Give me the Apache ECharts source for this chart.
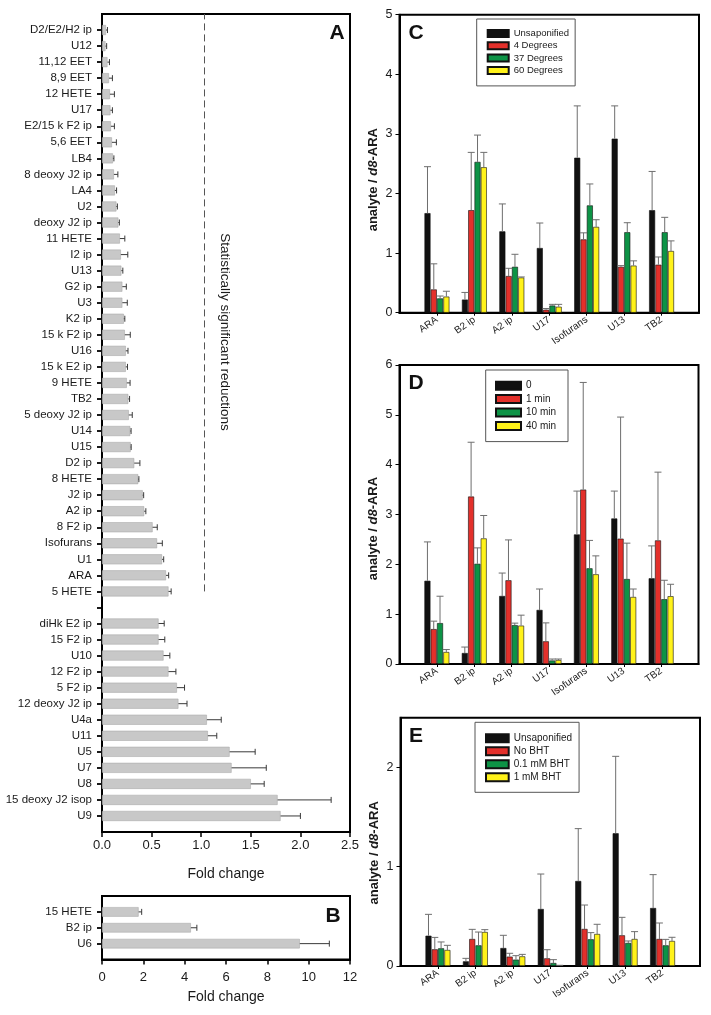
<!DOCTYPE html>
<html><head><meta charset="utf-8">
<script src="https://cdn.jsdelivr.net/npm/echarts@6/dist/echarts.min.js"></script>
<style>html,body{margin:0;padding:0;background:#fff}#c{width:711px;height:1015px}</style>
</head><body><div id="c"></div>
<script>
const FONT = '"Liberation Sans", Arial, Helvetica, sans-serif';
const TXT = '#1a1a1a';

// ---------- Panel A ----------
const catsA = ['D2/E2/H2 ip','U12','11,12 EET','8,9 EET','12 HETE','U17','E2/15 k F2 ip','5,6 EET','LB4','8 deoxy J2 ip','LA4','U2','deoxy J2 ip','11 HETE','I2 ip','U13','G2 ip','U3','K2 ip','15 k F2 ip','U16','15 k E2 ip','9 HETE','TB2','5 deoxy J2 ip','U14','U15','D2 ip','8 HETE','J2 ip','A2 ip','8 F2 ip','Isofurans','U1','ARA','5 HETE',' ','diHk E2 ip','15 F2 ip','U10','12 F2 ip','5 F2 ip','12 deoxy J2 ip','U4a','U11','U5','U7','U8','15 deoxy J2 isop','U9'];
const valsA = [0.04,0.035,0.055,0.07,0.08,0.085,0.09,0.10,0.11,0.12,0.13,0.145,0.165,0.18,0.19,0.195,0.205,0.205,0.22,0.23,0.24,0.24,0.25,0.265,0.27,0.285,0.289,0.325,0.365,0.41,0.425,0.51,0.555,0.605,0.645,0.67,null,0.57,0.57,0.62,0.67,0.755,0.77,1.057,1.067,1.286,1.306,1.50,1.77,1.80];
const errA = [0.015,0.012,0.02,0.035,0.045,0.02,0.035,0.045,0.01,0.04,0.017,0.01,0.01,0.05,0.07,0.015,0.04,0.05,0.01,0.055,0.022,0.017,0.033,0.013,0.035,0.008,0.005,0.057,0.007,0.01,0.017,0.047,0.053,0.017,0.027,0.027,null,0.057,0.063,0.064,0.075,0.077,0.087,0.145,0.09,0.258,0.35,0.135,0.54,0.20];
const thresholdA = 1.03;
const ticksA = {min:0, max:2.5, interval:0.5};

// ---------- Panel B ----------
const catsB = ['15 HETE','B2 ip','U6'];
const valsB = [1.77, 4.30, 9.57];
const errB = [0.15, 0.29, 1.43];
const ticksB = {min:0, max:12, interval:2};

// ---------- Panels C, D, E ----------
const catsCDE = ['ARA','B2 ip','A2 ip','U17','Isofurans','U13','TB2'];

const namesC = ['Unsaponified','4 Degrees','37 Degrees','60 Degrees'];
const valsC_unsap = [1.67,0.22,1.365,1.085,2.60,2.92,1.72];
const errC_unsap  = [0.78,0.12,0.46,0.42,0.87,0.55,0.65];
const valsC_4  = [0.39,1.72,0.615,0.05,1.23,0.77,0.805];
const errC_4   = [0.43,0.97,0.13,0.02,0.11,0.02,0.13];
const valsC_37 = [0.24,2.53,0.77,0.12,1.80,1.35,1.35];
const errC_37  = [0.04,0.45,0.21,0.02,0.36,0.16,0.25];
const valsC_60 = [0.27,2.44,0.59,0.10,1.44,0.79,1.035];
const errC_60  = [0.09,0.25,0.01,0.04,0.12,0.08,0.17];

const namesD = ['0','1 min','10 min','40 min'];
const valsD_0  = [1.67,0.22,1.365,1.085,2.60,2.92,1.72];
const errD_0   = [0.78,0.12,0.46,0.42,0.87,0.55,0.65];
const valsD_1  = [0.70,3.36,1.68,0.455,3.50,2.515,2.48];
const errD_1   = [0.16,1.09,0.81,0.37,2.15,2.44,1.37];
const valsD_10 = [0.82,2.01,0.78,0.07,1.92,1.705,1.30];
const errD_10  = [0.54,0.32,0.04,0.03,0.56,0.72,0.38];
const valsD_40 = [0.24,2.52,0.77,0.08,1.80,1.345,1.36];
const errD_40  = [0.05,0.46,0.21,0.02,0.37,0.16,0.24];

const namesE = ['Unsaponified','No BHT','0.1 mM BHT','1 mM BHT'];
const valsE_unsap = [0.305,0.047,0.181,0.574,0.856,1.336,0.584];
const errE_unsap  = [0.215,0.03,0.128,0.352,0.527,0.775,0.336];
const valsE_no  = [0.168,0.272,0.094,0.077,0.373,0.309,0.272];
const errE_no   = [0.12,0.097,0.034,0.087,0.241,0.181,0.161];
const valsE_01  = [0.178,0.208,0.064,0.03,0.269,0.232,0.208];
const errE_01   = [0.064,0.134,0.04,0.034,0.067,0.02,0.06];
const valsE_1   = [0.161,0.342,0.097,0.007,0.322,0.272,0.252];
const errE_1    = [0.047,0.024,0.02,0,0.098,0.074,0.037];

const ticksC = {min:0, max:5, interval:1};
const ticksD = {min:0, max:6, interval:1};
const ticksE = {min:0, max:2.5, interval:1};

// ---------- styles ----------
const seriesColors = ['#111111','#e3302b','#0d9346','#fff21a'];
const BAR_W = 6, BAR_PITCH = 6.3;

function pad(arr){ return [''].concat(arr, ['  ']); }
function padVals(arr){ return [null].concat(arr, [null]); }
function tickNotEnds(n){ return function(i){ return i > 0 && i < n - 1; }; }

function hErr(cap){
  return function(params, api){
    const c = api.value(0), v = api.value(1), e = api.value(2);
    const p0 = api.coord([v, c]), p1 = api.coord([v + e, c]);
    const st = {stroke:'#3a3a3a', lineWidth:1};
    return {type:'group', children:[
      {type:'line', shape:{x1:p0[0], y1:p0[1], x2:p1[0], y2:p1[1]}, style:st},
      {type:'line', shape:{x1:p1[0], y1:p1[1]-cap, x2:p1[0], y2:p1[1]+cap}, style:st}
    ]};
  };
}
function vErr(off, cap){
  return function(params, api){
    const c = api.value(0), v = api.value(1), e = api.value(2);
    const p0 = api.coord([c, v]), p1 = api.coord([c, v + e]);
    const x = p0[0] + off;
    const st = {stroke:'#6e6e6e', lineWidth:1};
    return {type:'group', children:[
      {type:'line', shape:{x1:x, y1:p0[1], x2:x, y2:p1[1]}, style:st},
      {type:'line', shape:{x1:x-cap, y1:p1[1], x2:x+cap, y2:p1[1]}, style:st}
    ]};
  };
}

const gridBase = {show:true, borderColor:'#000', borderWidth:2, backgroundColor:'transparent', containLabel:false, outerBoundsMode:'none'};
const grids = [
  Object.assign({left:102, top:14, width:248, height:818}, gridBase),
  Object.assign({left:102, top:896, width:248, height:63.5}, gridBase),
  Object.assign({left:399.5, top:14.7, width:299.5, height:298}, gridBase),
  Object.assign({left:399.5, top:365, width:299, height:299}, gridBase),
  Object.assign({left:400.5, top:717.7, width:299.5, height:248.3}, gridBase)
];

const axisLineBlack = {show:true, onZero:false, lineStyle:{color:'#000', width:2}};

const axCatsA = pad(catsA);
const axCatsB = pad(catsB);
const axCatsCDE = pad(catsCDE);

const xAxes = [
  Object.assign({gridIndex:0, type:'value', axisLine:axisLineBlack,
    axisTick:{show:true, length:5, lineStyle:{color:'#000', width:1.5}},
    axisLabel:{fontSize:13, color:TXT, margin:7, fontFamily:FONT, formatter:v=>v.toFixed(1)},
    splitLine:{show:false}, name:'Fold change', nameLocation:'middle', nameGap:35, nameMoveOverlap:false,
    nameTextStyle:{fontSize:14, color:TXT, fontFamily:FONT}}, ticksA),
  Object.assign({gridIndex:1, type:'value', axisLine:axisLineBlack,
    axisTick:{show:true, length:5, lineStyle:{color:'#000', width:1.5}},
    axisLabel:{fontSize:13, color:TXT, margin:11, fontFamily:FONT},
    splitLine:{show:false}, name:'Fold change', nameLocation:'middle', nameGap:31, nameMoveOverlap:false,
    nameTextStyle:{fontSize:14, color:TXT, fontFamily:FONT}}, ticksB)
];
[2,3,4].forEach(g => xAxes.push({gridIndex:g, type:'category', data:axCatsCDE, boundaryGap:false,
  axisLine:axisLineBlack,
  axisTick:{show:true, length:3, interval:tickNotEnds(axCatsCDE.length), lineStyle:{color:'#000', width:1}},
  axisLabel:{interval:0, rotate:35, fontSize:10, color:TXT, margin:6, fontFamily:FONT},
  splitLine:{show:false}}));

const yNameRich = {
  b:{fontWeight:'bold', fontSize:13, fontFamily:FONT, color:TXT},
  i:{fontWeight:'bold', fontStyle:'italic', fontSize:13, fontFamily:FONT, color:TXT}
};
function vAxis(g, ticks, shiftPad){
  return Object.assign({gridIndex:g, type:'value', axisLine:axisLineBlack,
    axisTick:{show:true, length:4, lineStyle:{color:'#000', width:1}},
    axisLabel:{fontSize:12.5, color:TXT, margin:7, fontFamily:FONT, showMaxLabel: ticks.max % ticks.interval === 0,
      formatter: v => (Math.abs(v / ticks.interval - Math.round(v / ticks.interval)) < 1e-9 ? String(v) : '')},
    splitLine:{show:false},
    name:'{b|analyte / }{i|d8}{b|-ARA}', nameLocation:'middle', nameGap:20, nameMoveOverlap:false,
    nameTextStyle:{rich:yNameRich, padding:[0, shiftPad, 0, 0]}}, ticks);
}
const yAxes = [
  {gridIndex:0, type:'category', data:axCatsA, inverse:true, boundaryGap:false, axisLine:axisLineBlack,
    axisTick:{show:true, length:5, interval:tickNotEnds(axCatsA.length), lineStyle:{color:'#000', width:1.8}},
    axisLabel:{interval:0, fontSize:11.5, color:TXT, margin:10, fontFamily:FONT}, splitLine:{show:false}},
  {gridIndex:1, type:'category', data:axCatsB, inverse:true, boundaryGap:false, axisLine:axisLineBlack,
    axisTick:{show:true, length:5, interval:tickNotEnds(axCatsB.length), lineStyle:{color:'#000', width:1.8}},
    axisLabel:{interval:0, fontSize:11.5, color:TXT, margin:10, fontFamily:FONT}, splitLine:{show:false}},
  vAxis(2, ticksC, 32),
  vAxis(3, ticksD, 28),
  vAxis(4, ticksE, 22)
];

const series = [];
const grayBar = {color:'#c8c8c8', borderColor:'#a3a3a3', borderWidth:0.5};
// A bars
series.push({type:'bar', xAxisIndex:0, yAxisIndex:0, data:padVals(valsA), barWidth:10, itemStyle:grayBar, silent:true,
  markLine:{silent:true, symbol:'none', label:{show:false}, lineStyle:{type:[7,4], color:'#555', width:1},
    data:[[{coord:[thresholdA, 36]}, {coord:[thresholdA, 0]}]]}});
series.push({type:'custom', xAxisIndex:0, yAxisIndex:0, renderItem:hErr(3), z:5, silent:true,
  encode:{x:1, y:0},
  data: valsA.map((v,i) => v == null ? null : [i+1, v, errA[i]]).filter(d => d)});
// B bars
series.push({type:'bar', xAxisIndex:1, yAxisIndex:1, data:padVals(valsB), barWidth:9.5, itemStyle:grayBar, silent:true});
series.push({type:'custom', xAxisIndex:1, yAxisIndex:1, renderItem:hErr(3), z:5, silent:true,
  encode:{x:1, y:0},
  data: valsB.map((v,i) => [i+1, v, errB[i]])});

function addGroup(g, names, valsList, errList){
  names.forEach((nm, k) => {
    series.push({type:'bar', name:nm, xAxisIndex:g, yAxisIndex:g, data:padVals(valsList[k]), barWidth:BAR_W, barGap:'5%',
      itemStyle:{color:seriesColors[k], borderColor:'#111', borderWidth:0.6}, silent:true});
  });
  names.forEach((nm, k) => {
    series.push({type:'custom', xAxisIndex:g, yAxisIndex:g, z:5, silent:true,
      renderItem:vErr((k - 1.5) * BAR_PITCH, 3.5), encode:{x:0, y:1},
      data: valsList[k].map((v,i) => [i+1, v, errList[k][i]])});
  });
}
addGroup(2, namesC, [valsC_unsap, valsC_4, valsC_37, valsC_60], [errC_unsap, errC_4, errC_37, errC_60]);
addGroup(3, namesD, [valsD_0, valsD_1, valsD_10, valsD_40], [errD_0, errD_1, errD_10, errD_40]);
addGroup(4, namesE, [valsE_unsap, valsE_no, valsE_01, valsE_1], [errE_unsap, errE_no, errE_01, errE_1]);

function legend(names, left, top, iw, ih, fs, lh, gap, padding){
  return {data:names, orient:'vertical', left:left, top:top, itemWidth:iw, itemHeight:ih, itemGap:gap,
    padding:padding, borderColor:'#555', borderWidth:1, backgroundColor:'#fff', icon:'rect', selectedMode:false,
    textStyle:{fontSize:fs, lineHeight:lh, color:TXT, fontFamily:FONT}};
}
const legends = [
  legend(namesC, 476.7, 19, 21, 7, 9.5, 11, 1.3, [9, 6, 10, 10]),
  legend(namesD, 485.7, 370, 25, 8, 10, 12, 1.4, [9.7, 12, 9.7, 9.3]),
  legend(namesE, 475, 722.3, 22.7, 8, 10, 12, 1, [10, 7, 9, 10])
];

function panelLetter(t, x, y){
  return {type:'text', x:x, y:y, style:{text:t, fontSize:21, fontWeight:'bold', fontFamily:FONT, fill:'#111',
    textAlign:'center', textVerticalAlign:'middle'}, z:100};
}
const graphics = [
  panelLetter('A', 337, 33), panelLetter('B', 333, 916), panelLetter('C', 416, 33),
  panelLetter('D', 416, 383), panelLetter('E', 416, 736),
  {type:'text', x:225, y:332, rotation:-Math.PI/2, style:{text:'Statistically significant reductions', fontSize:13.5,
    fontFamily:FONT, fill:TXT, textAlign:'center', textVerticalAlign:'middle'}, z:100}
];

const chart = echarts.init(document.getElementById('c'), null, {renderer:'canvas'});
chart.setOption({
  animation:false,
  backgroundColor:'#fff',
  textStyle:{fontFamily:FONT},
  grid:grids, xAxis:xAxes, yAxis:yAxes, series:series, legend:legends, graphic:graphics,
  tooltip:{show:false}
});
</script></body></html>
